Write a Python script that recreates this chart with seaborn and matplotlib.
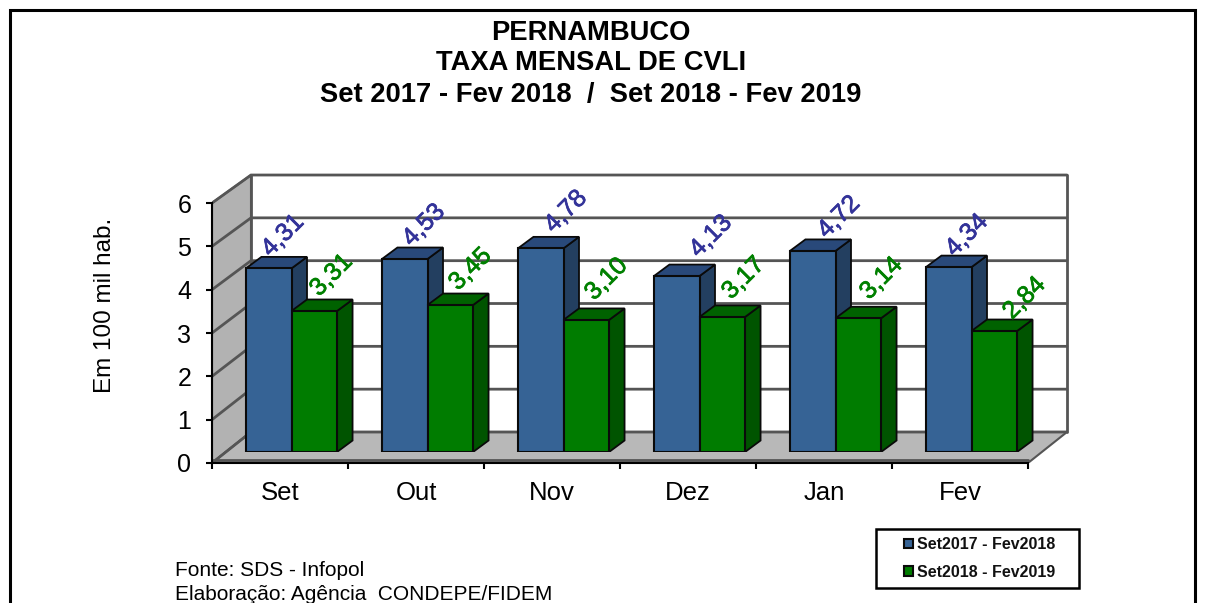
import pandas as pd
import seaborn as sns
import matplotlib.pyplot as plt
import matplotlib.patheffects as pe
from matplotlib.patches import Polygon, Rectangle

# Dados
meses = ["Set", "Out", "Nov", "Dez", "Jan", "Fev"]
serie_a = [4.31, 4.53, 4.78, 4.13, 4.72, 4.34]
serie_b = [3.31, 3.45, 3.10, 3.17, 3.14, 2.84]
nome_a = "Set2017 - Fev2018"
nome_b = "Set2018 - Fev2019"
y_ticks = [0, 1, 2, 3, 4, 5, 6]

df = pd.DataFrame({
    "mes": meses * 2,
    "taxa": serie_a + serie_b,
    "serie": [nome_a] * 6 + [nome_b] * 6,
})

sns.set_theme(style="ticks")
plt.rcParams["font.family"] = ["Liberation Sans", "DejaVu Sans"]

W, H = 1205, 603
fig = plt.figure(figsize=(W / 100, H / 100), dpi=100, facecolor="white")


# Eixos posicionados em pixels da imagem
def eixo_px(x0, x1, y_base, y_topo):
    ax = fig.add_axes([x0 / W, 1 - y_base / H, (x1 - x0) / W, (y_base - y_topo) / H])
    ax.patch.set_alpha(0)
    return ax


# Moldura externa (continua abaixo da imagem)
fig.add_artist(Rectangle((10 / W, -0.1), 1185 / W, 1.1 - 10 / H, transform=fig.transFigure,
                         fill=False, edgecolor="black", linewidth=2.2))

# Paredes e piso em perspectiva
px_x = 136
px_y = 43.33
parede = eixo_px(212, 1075, 463, 170)
parede.set_xlim(0, 863 / px_x)
parede.set_ylim(0, 293 / px_y)
fx = 39 / px_x
fy = 31 / px_y
esc = 42.83 / 43.33


def fundo(v):
    return fy + v * esc


linha = "#555555"
parede.add_patch(Polygon([(0, 0), (0, 6), (fx, fundo(6)), (fx, fundo(0))], closed=True,
                         facecolor="#b2b2b2", edgecolor=linha, lw=1.5, zorder=1))
parede.add_patch(Polygon([(0, 0), (6, 0), (6 + fx, fundo(0)), (fx, fundo(0))], closed=True,
                         facecolor="#b8b8b8", edgecolor=linha, lw=1.5, zorder=1))
for v in y_ticks:
    parede.plot([0, fx, 6 + fx], [v, fundo(v), fundo(v)], color=linha, lw=2, zorder=2,
                solid_joinstyle="miter")
parede.plot([fx, fx], [fundo(0), fundo(6)], color=linha, lw=2, zorder=2)
parede.plot([6 + fx, 6 + fx], [fundo(0), fundo(6)], color=linha, lw=2, zorder=2)
parede.plot([0, 6], [0.06, 0.06], color=linha, lw=2, zorder=2)

sns.despine(ax=parede)
parede.spines["left"].set_bounds(0, 6)
parede.spines["bottom"].set_bounds(0, 6)
parede.spines["left"].set_linewidth(1.5)
parede.spines["bottom"].set_linewidth(1.5)
parede.spines["left"].set_color("black")
parede.spines["bottom"].set_color("black")
parede.set_xticks(range(7), [""] * 7)
parede.set_xticks([i + 0.5 for i in range(6)], meses, minor=True)
parede.set_yticks(y_ticks)
parede.tick_params(axis="x", which="major", length=4, width=1.5, color="black")
parede.tick_params(axis="x", which="minor", length=0, pad=13, labelsize=18.5, labelcolor="black")
parede.tick_params(axis="y", length=4, width=1.5, color="black", pad=11, labelsize=18, labelcolor="black")
parede.set_xlabel("")
parede.set_ylabel("")

# Barras
barras = eixo_px(223.5, 1039.5, 452, 452 - 6 * 42.6)
sns.barplot(data=df, x="mes", y="taxa", hue="serie", ax=barras, width=0.67, gap=0,
            palette=["#366395", "#007c00"], edgecolor="#0a0a0a", linewidth=1.5,
            saturation=1, legend=False, errorbar=None)
barras.set_xlim(-0.5, 5.5)
barras.set_ylim(0, 6)
barras.axis("off")

prof_x = 15.5 / 136
prof_y = 11.5 / 42.6
lados = ["#233f60", "#005400"]
topos = ["#29497a", "#006200"]
cores_texto = ["#333399", "#008000"]

# Deslocamento de cada rotulo em relacao ao topo da barra (pixels)
desloc_x = [[14, 19, 25, 34, 26, 18], [17, 20, 20, 21, 23, 30]]
desloc_y = [[33, 34, 37, 40, 34, 32], [36, 36, 41, 39, 40, 33]]

for i, cont in enumerate(barras.containers):
    for j, b in enumerate(cont.patches):
        b.set_zorder(3 + 2 * i)
        x0, x1, h = b.get_x(), b.get_x() + b.get_width(), b.get_height()
        barras.add_patch(Polygon([(x1, 0), (x1, h), (x1 + prof_x, h + prof_y), (x1 + prof_x, prof_y)],
                                 closed=True, facecolor=lados[i], edgecolor="#0a0a0a", lw=1.3,
                                 zorder=2 + 2 * i))
        barras.add_patch(Polygon([(x0, h), (x1, h), (x1 + prof_x, h + prof_y), (x0 + prof_x, h + prof_y)],
                                 closed=True, facecolor=topos[i], edgecolor="#0a0a0a", lw=1.3,
                                 zorder=2 + 2 * i))
        rotulo = barras.annotate(f"{h:.2f}".replace(".", ","), ((x0 + x1) / 2, h),
                                 xytext=(desloc_x[i][j], desloc_y[i][j]),
                                 textcoords="offset pixels", rotation=45, ha="center", va="center",
                                 color=cores_texto[i], fontsize=18, zorder=10, annotation_clip=False)
        rotulo.set_path_effects([pe.withStroke(linewidth=0.5, foreground=cores_texto[i])])

# Titulo
titulos = ["PERNAMBUCO", "TAXA MENSAL DE CVLI", "Set 2017 - Fev 2018  /  Set 2018 - Fev 2019"]
for t, y in zip(titulos, [33, 63, 95]):
    fig.text(591 / W, 1 - y / H, t, ha="center", va="center", fontsize=19.7, fontweight="bold", color="black")

fig.text(105 / W, 1 - 305 / H, "Em 100 mil hab.", rotation=90, ha="center", va="center",
         fontsize=17.5, color="black")

# Fonte
fig.text(175 / W, 1 - 570 / H, "Fonte: SDS - Infopol", va="center", fontsize=15, color="black")
fig.text(175 / W, 1 - 595 / H, "Elaboração: Agência  CONDEPE/FIDEM", va="center", fontsize=15, color="black")

# Legenda
fig.add_artist(Rectangle((876 / W, 1 - 588 / H), 203 / W, 59 / H, transform=fig.transFigure,
                         facecolor="white", edgecolor="black", linewidth=1.8, zorder=19))
leg = fig.legend(handles=[c.patches[0] for c in barras.containers], labels=[nome_a, nome_b],
                 loc="center", bbox_to_anchor=(980 / W, 1 - 558.5 / H), frameon=False,
                 handlelength=0.55, handleheight=0.55, handletextpad=0.25,
                 labelspacing=0.8, borderaxespad=0, prop={"size": 11.5, "weight": "bold"},
                 labelcolor="#111111")
leg.set_zorder(20)

fig.savefig("out.png", dpi=100)
